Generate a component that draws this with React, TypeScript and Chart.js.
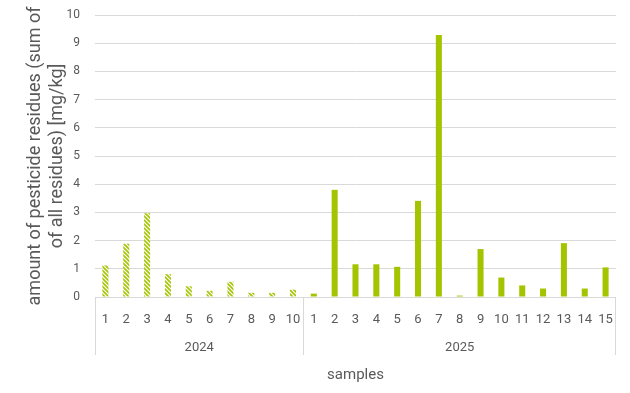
import React, { useEffect, useRef } from "react";
import { Chart, registerables } from "chart.js";

Chart.register(...registerables);

const values2024 = [1.12, 1.89, 2.97, 0.81, 0.38, 0.22, 0.54, 0.15, 0.15, 0.26];
const values2025 = [0.12, 3.8, 1.16, 1.16, 1.07, 3.41, 9.29, 0.05, 1.7, 0.69, 0.41, 0.3, 1.91, 0.3, 1.05];
const groupLabels = ["2024", "2025"];
const yTicks = { min: 0, max: 10, step: 1 };
const yTitle = ["amount of pesticide residues (sum of", "of all residues) [mg/kg]"];
const xTitle = "samples";

const GREEN = "rgb(164,196,0)";
const TEXT = "#595959";
const GRID = "#d9d9d9";
const FONT = "Roboto";

function makeHatch(): CanvasPattern | string {
  const c = document.createElement("canvas");
  c.width = 4;
  c.height = 4;
  const g = c.getContext("2d");
  if (!g) return GREEN;
  g.fillStyle = "#ffffff";
  g.fillRect(0, 0, 4, 4);
  g.strokeStyle = GREEN;
  g.lineWidth = 1.6;
  g.beginPath();
  g.moveTo(-1, -1);
  g.lineTo(5, 5);
  g.moveTo(-3, 1);
  g.lineTo(1, 5);
  g.moveTo(3, -1);
  g.lineTo(7, 3);
  g.stroke();
  return g.createPattern(c, "repeat") || GREEN;
}

export default function App() {
  const ref = useRef<HTMLCanvasElement>(null);
  useEffect(() => {
    if (!ref.current) return;
    const groups = [values2024, values2025];
    const labels: string[] = [];
    const data: number[] = [];
    const starts: number[] = [];
    const centers: number[] = [];
    groups.forEach((g) => {
      starts.push(labels.length);
      centers.push(labels.length + (g.length - 1) / 2);
      g.forEach((v, i) => {
        labels.push(String(i + 1));
        data.push(v);
      });
    });
    const hatch = makeHatch();
    const colors = data.map((_, i) => (i < values2024.length ? hatch : GREEN));

    const chart = new Chart(ref.current, {
      type: "bar",
      data: {
        labels,
        datasets: [
          {
            data,
            backgroundColor: colors as any,
            borderWidth: 0,
            categoryPercentage: 1,
            barPercentage: 0.29,
          },
        ],
      },
      options: {
        animation: false,
        responsive: true,
        maintainAspectRatio: false,
        layout: { padding: { left: 0, right: 14, top: 15, bottom: 0 } },
        plugins: { legend: { display: false }, tooltip: { enabled: false } },
        scales: {
          y: {
            min: yTicks.min,
            max: yTicks.max,
            ticks: { stepSize: yTicks.step, color: TEXT, font: { family: FONT, size: 12 }, padding: 15 },
            grid: { color: GRID, drawTicks: false },
            border: { display: false },
            title: {
              display: true,
              text: yTitle,
              color: TEXT,
              font: { family: FONT, size: 18, lineHeight: 1.2 },
              padding: { top: 25, bottom: 0 },
            },
            afterFit: (s: any) => {
              s.width = 95;
              s.paddingTop = 0;
              s.paddingBottom = 0;
            },
          },
          x: {
            type: "category",
            weight: 0,
            ticks: { color: TEXT, font: { family: FONT, size: 13 }, padding: -43, autoSkip: false, maxRotation: 0 },
            grid: {
              drawOnChartArea: false,
              drawTicks: true,
              tickLength: 58,
              offset: true,
              color: (ctx: any) =>
                ctx.type !== "tick" || starts.includes(ctx.index) ? GRID : "rgba(0,0,0,0)",
            },
            border: { display: false },
            afterFit: (s: any) => {
              s.height = 35;
            },
          },
          x2: {
            type: "linear",
            axis: "x",
            position: "bottom",
            weight: 1,
            offset: false,
            min: -0.5,
            max: labels.length - 0.5,
            afterBuildTicks: (s: any) => {
              s.ticks = centers.map((v) => ({ value: v }));
            },
            ticks: {
              autoSkip: false,
              maxRotation: 0,
              align: "center",
              color: TEXT,
              font: { family: FONT, size: 13 },
              padding: 0,
              callback: (_v: any, i: number) => groupLabels[i],
            },
            grid: { display: false, offset: false },
            border: { display: false },
            title: {
              display: true,
              text: xTitle,
              color: TEXT,
              font: { family: FONT, size: 15, lineHeight: 1.2 },
              padding: { top: 0, bottom: 9 },
            },
            afterFit: (s: any) => {
              s.height = 61;
            },
          },
        },
      } as any,
    });
    return () => chart.destroy();
  }, []);
  return (
    <div style={{ position: "absolute", left: 0, top: 0, width: 630, height: 393, background: "#fff" }}>
      <canvas ref={ref} />
    </div>
  );
}
